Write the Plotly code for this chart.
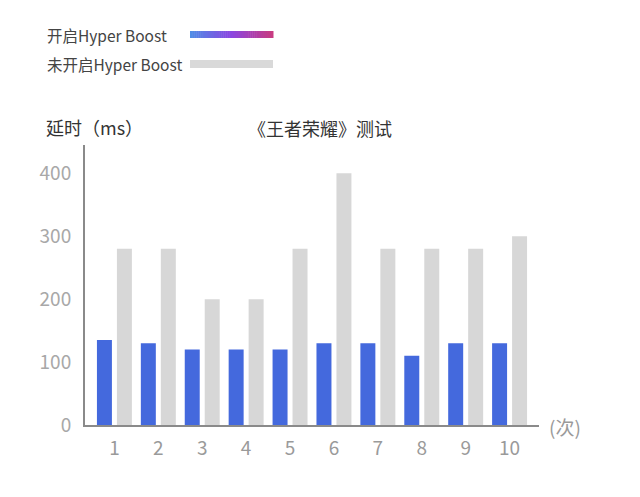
import plotly.graph_objects as go

# data
runs = ['1', '2', '3', '4', '5', '6', '7', '8', '9', '10']
boost_on = [135, 130, 120, 120, 120, 130, 130, 110, 130, 130]
boost_off = [280, 280, 200, 200, 280, 400, 280, 280, 280, 300]
y_ticks = [0, 100, 200, 300, 400]

font_family = 'Noto Sans CJK SC, Noto Sans, sans-serif'

# the page body adds an 8px margin, so pixel targets are shifted back by it
OFF = 8
L, R, T, B = 85 - OFF, 539 - OFF, 145 - OFF, 425 - OFF


def px(x):
    return (x - OFF - L) / (R - L)


def py(y):
    return (B - (y - OFF)) / (B - T)


fig = go.Figure()
fig.add_trace(go.Bar(x=runs, y=boost_on, name='开启Hyper Boost',
                     marker=dict(color='#4469DD', line=dict(width=0))))
fig.add_trace(go.Bar(x=runs, y=boost_off, name='未开启Hyper Boost',
                     marker=dict(color='#D7D7D7', line=dict(width=0))))

fig.update_layout(
    width=640, height=497,
    margin=dict(l=L, r=640 - R, t=T, b=497 - B),
    paper_bgcolor='white', plot_bgcolor='white',
    barmode='group', bargap=0.09, bargroupgap=0.25,
    showlegend=False,
    font=dict(family=font_family, color='#999999'),
)
fig.update_xaxes(range=[-0.67, 9.67], showline=True, linecolor='#8a8a8a', linewidth=2,
                 ticks='', tickfont=dict(size=19, color='#9a9a9a'), showgrid=False,
                 zeroline=False, ticklabelstandoff=5, automargin=False)
fig.update_yaxes(range=[0, 445], tickvals=y_ticks, showline=True, linecolor='#8a8a8a',
                 linewidth=2, ticks='', showgrid=False, zeroline=False,
                 tickfont=dict(size=19, color='#a8a8a8'), ticklabelstandoff=8,
                 automargin=False)

# axis captions, title and hand-made legend
anns = [
    dict(text='延时（ms）', x=44, y=127, xanchor='left', size=18, color='#333333'),
    dict(text='《王者荣耀》测试', x=320, y=128, xanchor='center', size=18, color='#333333'),
    dict(text='(次)', x=547, y=426, xanchor='left', size=19, color='#9a9a9a'),
    dict(text='开启Hyper Boost', x=45, y=35, xanchor='left', size=15.5, color='#444444'),
    dict(text='未开启Hyper Boost', x=45, y=64, xanchor='left', size=15.5, color='#444444'),
]
for a in anns:
    fig.add_annotation(text=a['text'], x=px(a['x']), y=py(a['y']), xref='paper', yref='paper',
                       xanchor=a['xanchor'], yanchor='middle', showarrow=False,
                       font=dict(size=a['size'], color=a['color'], family=font_family))

# legend swatches: gradient strip built from thin rectangles, plus gray strip
x0, x1 = 190, 273
steps = 40
c_start = (80, 140, 230)
c_mid = (140, 70, 225)
c_end = (200, 60, 130)
for i in range(steps):
    t = i / (steps - 1)
    if t < 0.5:
        u = t / 0.5
        c = [int(c_start[k] + (c_mid[k] - c_start[k]) * u) for k in range(3)]
    else:
        u = (t - 0.5) / 0.5
        c = [int(c_mid[k] + (c_end[k] - c_mid[k]) * u) for k in range(3)]
    xa = x0 + (x1 - x0) * i / steps
    xb = x0 + (x1 - x0) * (i + 1) / steps + 0.5
    fig.add_shape(type='rect', xref='paper', yref='paper',
                  x0=px(xa), x1=px(xb), y0=py(38), y1=py(31),
                  fillcolor='rgb({},{},{})'.format(*c), line=dict(width=0), layer='above')
fig.add_shape(type='rect', xref='paper', yref='paper',
              x0=px(x0), x1=px(x1), y0=py(68), y1=py(60),
              fillcolor='#D9D9D9', line=dict(width=0), layer='above')

fig.write_html("out.html")
